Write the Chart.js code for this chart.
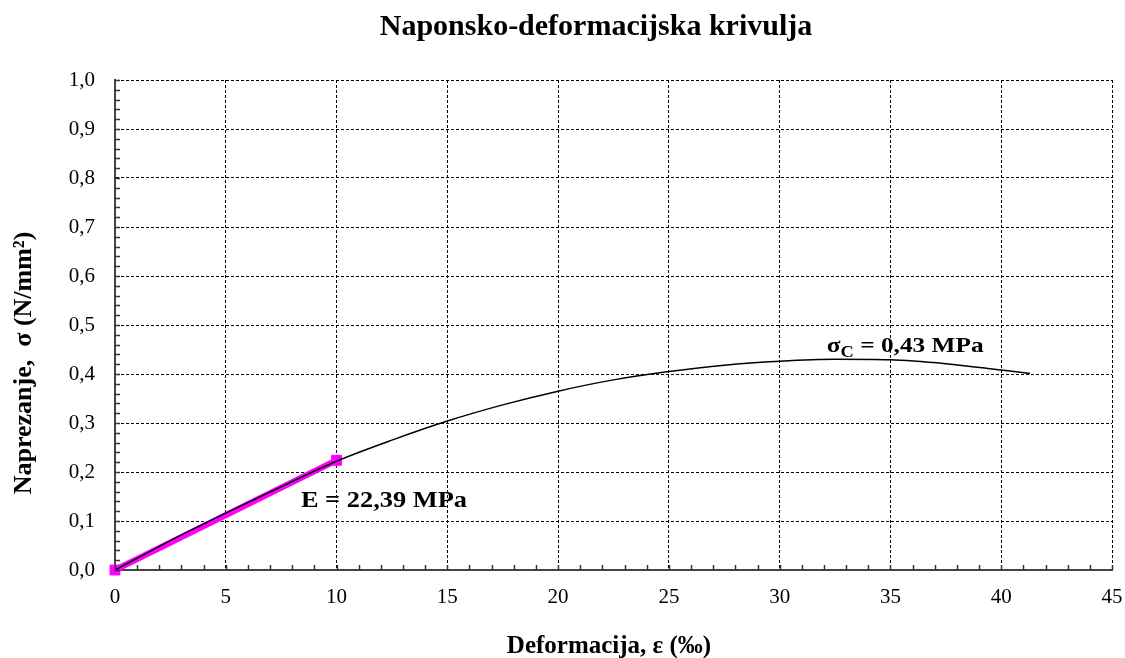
<!DOCTYPE html>
<html><head><meta charset="utf-8">
<script src="https://cdn.jsdelivr.net/npm/chart.js@4"></script>
<style>html,body{margin:0;padding:0;background:#fff}#wrap{width:1125px;height:658px;position:relative}</style>
</head><body><div id="wrap"><canvas id="c" width="1125" height="658"></canvas></div>
<script>
const curveX = [0, 1, 2.5, 5, 7.5, 10, 12.5, 15, 17.5, 20, 22.5, 25, 27.5, 30, 32.5, 35, 37.5, 40, 41.3];
const curveY = [0, 0.024, 0.06, 0.116, 0.17, 0.222, 0.265, 0.304, 0.337, 0.365, 0.388, 0.405, 0.418, 0.426, 0.43, 0.429, 0.421, 0.408, 0.401];
const modulusX = [0, 10];
const modulusY = [0, 0.2239];
const xTicks = [0, 5, 10, 15, 20, 25, 30, 35, 40, 45];
const yTicks = [0, 0.1, 0.2, 0.3, 0.4, 0.5, 0.6, 0.7, 0.8, 0.9, 1.0];
const titleText = 'Naponsko-deformacijska krivulja';
const xTitle = 'Deformacija, ε (‰)';
const yTitle = 'Naprezanje,  σ (N/mm²)';
const labelE = 'E = 22,39 MPa';
const labelSigma = ['σ', 'C', ' = 0,43 MPa'];

const SERIF = '"Liberation Serif", "Times New Roman", serif';

const decorations = {
  id: 'decorations',
  afterDraw(chart) {
    const ctx = chart.ctx, xs = chart.scales.x, ys = chart.scales.y;
    ctx.save();
    // inward minor ticks
    ctx.strokeStyle = '#333'; ctx.lineWidth = 1.5;
    const b = ys.getPixelForValue(0), l = xs.getPixelForValue(0);
    for (let v = 0; v <= 45.001; v += 1) {
      const p = Math.round(xs.getPixelForValue(v)) + 0.5;
      ctx.beginPath(); ctx.moveTo(p, b); ctx.lineTo(p, b - 5); ctx.stroke();
    }
    for (let v = 0; v <= 1.0001; v += 0.02) {
      const p = Math.round(ys.getPixelForValue(v)) + 0.5;
      ctx.beginPath(); ctx.moveTo(l, p); ctx.lineTo(l + 5, p); ctx.stroke();
    }
    ctx.fillStyle = '#000';
    ctx.textBaseline = 'alphabetic';
    // chart title
    ctx.textAlign = 'center';
    ctx.font = 'bold 30px ' + SERIF;
    ctx.fillText(titleText, 596, 35);
    // x axis title
    ctx.font = 'bold 25px ' + SERIF;
    ctx.fillText(xTitle, 609, 653);
    // y axis title
    ctx.save();
    ctx.translate(31, 363);
    ctx.rotate(-Math.PI / 2);
    ctx.font = 'bold 26px ' + SERIF;
    ctx.fillText(yTitle, 0, 0);
    ctx.restore();
    // annotations
    ctx.textAlign = 'left';
    ctx.save();
    ctx.translate(xs.getPixelForValue(8.39), ys.getPixelForValue(0.1286));
    ctx.scale(1.1, 1);
    ctx.font = 'bold 24px ' + SERIF;
    ctx.fillText(labelE, 0, 0);
    ctx.restore();

    ctx.save();
    ctx.translate(xs.getPixelForValue(32.13), ys.getPixelForValue(0.445));
    ctx.scale(1.15, 1);
    let x0 = 0;
    ctx.font = 'bold 22px ' + SERIF;
    ctx.fillText(labelSigma[0], x0, 0);
    x0 += ctx.measureText(labelSigma[0]).width;
    ctx.font = 'bold 16px ' + SERIF;
    ctx.fillText(labelSigma[1], x0, 5);
    x0 += ctx.measureText(labelSigma[1]).width;
    ctx.font = 'bold 22px ' + SERIF;
    ctx.fillText(labelSigma[2], x0, 0);
    ctx.restore();
    ctx.restore();
  }
};

new Chart(document.getElementById('c'), {
  type: 'scatter',
  data: {
    datasets: [
      {
        label: 'curve',
        data: curveX.map((x, i) => ({x, y: curveY[i]})),
        showLine: true, borderColor: '#000', borderWidth: 1.5,
        pointRadius: 0, cubicInterpolationMode: 'monotone', order: 0
      },
      {
        label: 'E',
        data: modulusX.map((x, i) => ({x, y: modulusY[i]})),
        showLine: true, borderColor: '#ff00ff', borderWidth: 6,
        pointStyle: 'rect', pointRadius: 7, pointBorderWidth: 1,
        pointBackgroundColor: '#ff00ff', pointBorderColor: '#ff00ff',
        clip: false, order: 1
      }
    ]
  },
  options: {
    responsive: false, animation: false,
    layout: {padding: {left: 0, right: 0, top: 80, bottom: 0}},
    plugins: {legend: {display: false}, tooltip: {enabled: false}, title: {display: false}},
    scales: {
      x: {
        type: 'linear', min: 0, max: 45,
        afterBuildTicks: s => { s.ticks = xTicks.map(v => ({value: v})); },
        afterFit: s => { s.height = 88; s.paddingRight = 13; s.paddingLeft = 0; },
        ticks: {color: '#000', font: {family: SERIF, size: 21}, padding: 15, maxRotation: 0},
        grid: {color: '#000', lineWidth: 1, drawTicks: false},
        border: {color: '#444', width: 2, dash: [3, 2]}
      },
      y: {
        type: 'linear', min: 0, max: 1.0,
        afterBuildTicks: s => { s.ticks = yTicks.map(v => ({value: v})); },
        afterFit: s => { s.width = 115; s.paddingTop = 0; s.paddingBottom = 0; },
        ticks: {color: '#000', font: {family: SERIF, size: 21}, padding: 20,
          callback: v => v.toFixed(1).replace('.', ',')},
        grid: {color: '#000', lineWidth: 1, drawTicks: false},
        border: {color: '#444', width: 2, dash: [3, 2]}
      }
    }
  },
  plugins: [decorations]
});
</script></body></html>
